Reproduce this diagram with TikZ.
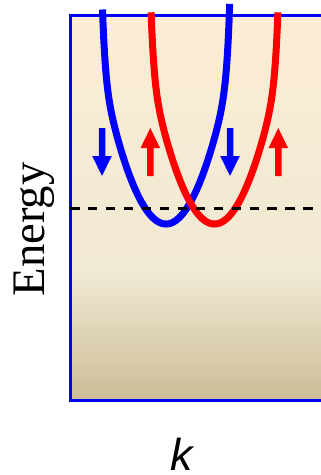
\documentclass[tikz,border=0pt]{standalone}
\usepackage{fontspec}
\newfontfamily\serifE{Liberation Serif}
\newfontfamily\sansK{Liberation Sans}
\definecolor{ctop}{HTML}{FCEDD3}
\definecolor{cmid}{HTML}{F0E9D4}
\definecolor{cbot}{HTML}{CDBD98}
\pgfdeclareverticalshading{bgshade}{100bp}{color(0bp)=(cbot); color(25bp)=(cbot); color(41.9bp)=(cmid); color(75bp)=(ctop); color(100bp)=(ctop)}
\tikzset{
  band/.style={line width=7pt},
  frame/.style={blue, line width=2.7pt},
  fermi/.style={black, line width=2.6pt, dash pattern=on 9.5pt off 8.45pt},
  dnarrow/.pic={\fill (-3.25,0) -- (3.25,0) -- (3.25,28) -- (9.75,28) -- (0,48) -- (-9.75,28) -- (-3.25,28) -- cycle;},
  uparrow/.pic={\fill (-3.25,0) -- (3.25,0) -- (3.25,-28) -- (9.75,-28) -- (0,-48) -- (-9.75,-28) -- (-3.25,-28) -- cycle;}
}
\begin{document}
\begin{tikzpicture}[x=1pt,y=-1pt]
\useasboundingbox (0,0) rectangle (321,475);
\clip (0,0) rectangle (321,475);
% background box
\shade[shading=bgshade] (70.3,15.7) rectangle (340,400.3);
\draw[frame] (340,15.7) -- (70.3,15.7) -- (70.3,400.3) -- (340,400.3);
% bands
\draw[band, blue, shift={(166,224)}] plot[domain=-63.5:63.7, samples=201, variable=\x] (\x, {-(0.0365*\x*\x + 80*(\x/64)^22)});
\draw[band, red, shift={(214.5,224)}] plot[domain=-63.4:63.4, samples=201, variable=\x] (\x, {-(0.0365*\x*\x + 80*(\x/64)^22)});
% spin arrows
\pic[blue] at (102,128) {dnarrow};
\pic[blue] at (230,128) {dnarrow};
\pic[red] at (150.3,176) {uparrow};
\pic[red] at (278.3,176) {uparrow};
% Fermi level
\coordinate (fl) at (70,208.3);
\coordinate (fr) at (321,208.3);
\draw[fermi] (fl) -- (fr);
% labels
\node[font=\serifE\fontsize{46.7}{50}\selectfont, rotate=90, anchor=base, inner sep=0pt] (energy) at (45,229.5) {Energy};
\node[font=\sansK\itshape\fontsize{44.7}{48}\selectfont, anchor=base, inner sep=0pt] (klabel) at (182,470) {k};
\end{tikzpicture}
\end{document}
